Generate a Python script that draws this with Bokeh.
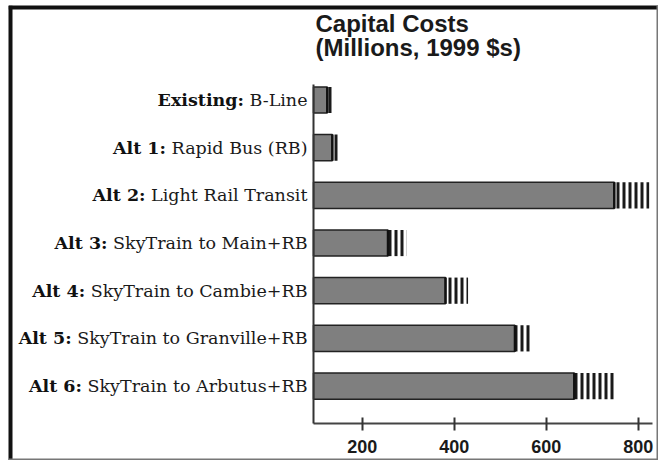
import os
import glob
import subprocess
import numpy as np
from bokeh.plotting import figure
from bokeh.models import ColumnDataSource, Range1d, FixedTicker, Span
from bokeh.core.properties import value
from bokeh.embed import file_html
from bokeh.resources import INLINE

# ---------------- data ----------------
bold_labels = ["Existing:", "Alt 1:", "Alt 2:", "Alt 3:", "Alt 4:", "Alt 5:", "Alt 6:"]
names = ["B-Line", "Rapid Bus (RB)", "Light Rail Transit", "SkyTrain to Main+RB",
         "SkyTrain to Cambie+RB", "SkyTrain to Granville+RB", "SkyTrain to Arbutus+RB"]
base_cost = [124, 135, 748, 256, 381, 532, 661]     # solid bar end
high_cost = [138, 151, 824, 296, 430, 566, 749]     # hatched range end
x_ticks = [200, 400, 600, 800]
title_lines = ["Capital Costs", "(Millions, 1999 $s)"]

# ---------------- layout (canvas pixels) ----------------
W, H = 650, 455                  # whole canvas is the plot frame
AXIS_X_PX, AXIS_END_PX = 305, 644
ROW0_PX, ROW_PX = 94.5, 47.67    # centre of first row, row spacing
XAXIS_Y_PX = 418                 # horizontal axis line
YAXIS_TOP_PX = 79                # top of vertical axis line
TITLE_MID_PX = [18, 42]          # title line centres

X_START, X_END = 94, 831
BAR_H = 0.55
LABEL_FONT = "DejaVu Serif"
LABEL_SIZE = 17.5
LABEL_GAP = 6

upp = (X_END - X_START) / (AXIS_END_PX - AXIS_X_PX)   # data units per pixel
x_left = X_START - AXIS_X_PX * upp
x_right = X_END + (W - AXIS_END_PX) * upp


def py(px):
    return (px - ROW0_PX) / ROW_PX


y_top, y_bottom = py(0), py(H)


def find_font(family, bold):
    style = "bold" if bold else "regular"
    try:
        out = subprocess.run(["fc-match", "-f", "%{file}", f"{family}:{style}"],
                             capture_output=True, text=True, timeout=5).stdout.strip()
        if out and os.path.exists(out):
            return out
    except Exception:
        pass
    fname = "DejaVuSerif-Bold.ttf" if bold else "DejaVuSerif.ttf"
    for root in ["/usr/share/fonts", "/usr/local/share/fonts", os.path.expanduser("~/.fonts")]:
        hits = glob.glob(os.path.join(root, "**", fname), recursive=True)
        if hits:
            return hits[0]
    return None


def measurer(bold, size):
    try:
        from PIL import ImageFont
        path = find_font(LABEL_FONT, bold)
        if path:
            f = ImageFont.truetype(path, size)
            return lambda s: f.getlength(s)
    except Exception:
        pass
    k = 0.66 if bold else 0.58
    return lambda s: len(s) * size * k


w_reg = measurer(False, LABEL_SIZE)
reg_widths = [w_reg(s) for s in names]
space_w = w_reg(" ")

idx = np.arange(len(names))
src = ColumnDataSource(dict(
    y=idx,
    base=base_cost,
    high=high_cost,
    bold=bold_labels,
    label=names,
    x0=[X_START] * len(names),
    y_lo=idx - BAR_H / 2,
    y_hi=idx + BAR_H / 2,
    off_reg=[-LABEL_GAP] * len(names),
    off_bold=[-(LABEL_GAP + w + space_w) for w in reg_widths],
))

p = figure(width=W, height=H, output_backend="svg", toolbar_location=None,
           x_range=Range1d(x_left, x_right), y_range=Range1d(y_bottom, y_top),
           min_border=0)
p.styles = {"margin-left": "8px", "margin-top": "5px"}
p.background_fill_color = "white"
p.border_fill_color = "white"
p.outline_line_color = None
p.xgrid.visible = False
p.ygrid.visible = False

# outer frame of the picture
p.add_layout(Span(location=x_left, dimension="height", line_color="#111", line_width=8))
p.add_layout(Span(location=y_top, dimension="width", line_color="#111", line_width=8))
p.add_layout(Span(location=x_right, dimension="height", line_color="#777", line_width=4))
p.add_layout(Span(location=y_bottom, dimension="width", line_color="#777", line_width=4))

# x axis (drawn inside the frame)
p.xaxis.fixed_location = py(XAXIS_Y_PX)
p.xaxis.bounds = (X_START, X_END)
p.xaxis.ticker = FixedTicker(ticks=x_ticks)
p.xaxis.minor_tick_line_color = None
p.xaxis.major_tick_in = 6
p.xaxis.major_tick_out = 7
p.xaxis.major_tick_line_width = 2
p.xaxis.major_tick_line_color = "#333"
p.xaxis.axis_line_width = 2
p.xaxis.axis_line_color = "#444"
p.xaxis.major_label_text_font = "Liberation Sans"
p.xaxis.major_label_text_font_style = "bold"
p.xaxis.major_label_text_font_size = "18px"
p.xaxis.major_label_text_color = "#1a1a1a"
p.xaxis.major_label_standoff = 9

# y axis: plain vertical line at the bars' base
p.yaxis.fixed_location = X_START
p.yaxis.bounds = (py(YAXIS_TOP_PX), py(XAXIS_Y_PX))
p.yaxis.ticker = FixedTicker(ticks=[])
p.yaxis.minor_tick_line_color = None
p.yaxis.major_tick_line_color = None
p.yaxis.major_label_text_font_size = "0px"
p.yaxis.axis_line_width = 2
p.yaxis.axis_line_color = "#333"

# bars
p.hbar(y="y", left="x0", right="base", height=BAR_H, fill_color="#7f7f7f",
       line_color="#222", line_width=1.5, source=src)
p.hbar(y="y", left="base", right="high", height=BAR_H, fill_color=None,
       line_color=None, hatch_pattern="vertical_line", hatch_color="#1a1a1a",
       hatch_scale=6, hatch_weight=3, source=src)
p.segment(x0="base", x1="base", y0="y_lo", y1="y_hi", line_width=2.5,
          line_color="#111", source=src)

# category labels (bold prefix + regular name)
p.text(x="x0", y="y", text="label", x_offset="off_reg",
       text_align="right", text_baseline="middle",
       text_font=value(LABEL_FONT), text_font_size=f"{LABEL_SIZE}px",
       text_color="#1a1a1a", source=src)
p.text(x="x0", y="y", text="bold", x_offset="off_bold",
       text_align="right", text_baseline="middle",
       text_font=value(LABEL_FONT), text_font_size=f"{LABEL_SIZE}px",
       text_font_style="bold", text_color="#111", source=src)

# title
p.text(x=[X_START] * 2, y=[py(v) for v in TITLE_MID_PX], text=title_lines,
       x_offset=2, text_align="left", text_baseline="middle",
       text_font=value("Liberation Sans"), text_font_size="24px",
       text_font_style="bold", text_color="#1a1a1a")

open("out.html", "w").write(file_html(p, INLINE))
